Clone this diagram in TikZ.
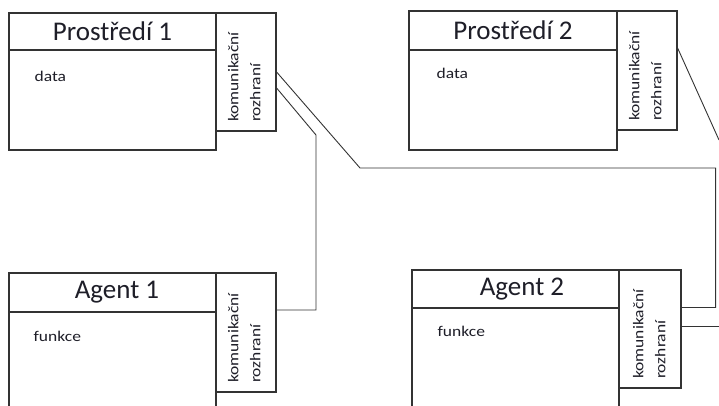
\documentclass[tikz,border=0pt]{standalone}
\usepackage{fontspec}
\usepackage{graphicx}
\setmainfont{Carlito}
\usetikzlibrary{calc}
\definecolor{boxline}{HTML}{333333}
\definecolor{ink}{HTML}{1E1E28}
\tikzset{
  frame/.style={draw=boxline, line width=1.2pt, rectangle, inner sep=0pt, fill=white},
  head/.style={frame, font=\fontsize{27}{32}\selectfont, text=ink},
  link/.style={draw=boxline, line width=0.9pt},
  bodytext/.style={inner sep=0pt, anchor=base west, text=ink, font=\fontsize{17.5}{21}\selectfont},
  iftext/.style={inner sep=0pt, rotate=90, anchor=south west, align=left, text=ink,
                 font=\fontsize{17.5}{22}\selectfont},
}
\newcommand{\squash}[1]{\scalebox{1}[0.85]{#1}}
\begin{document}
\begin{tikzpicture}[x=1pt, y=-1pt]
  \useasboundingbox (0,0) rectangle (719,406);
  \clip (0,0) rectangle (719,406);

  % Prostředí 1
  \node[frame, minimum width=207pt, minimum height=100pt] (p1b) at (112.5,100) {};
  \node[head, minimum width=207pt, minimum height=37pt] (p1h) at (112.5,31.5) {Prostředí 1};
  \node[frame, minimum width=60pt, minimum height=118pt] (p1i) at (246,72) {};
  \node[bodytext] (p1d) at ([xshift=26pt,yshift=-31.7pt]p1b.north west) {\squash{data}};
  \node[iftext] (p1t) at ([xshift=-16pt,yshift=9.5pt]p1i.south east) {\squash{komunikační}\\\squash{rozhraní}};

  % Prostředí 2
  \node[frame, minimum width=208pt, minimum height=100pt] (p2b) at (513,100) {};
  \node[head, minimum width=208pt, minimum height=39pt] (p2h) at (513,30.5) {Prostředí 2};
  \node[frame, minimum width=60pt, minimum height=119pt] (p2i) at (647,70.5) {};
  \node[bodytext] (p2d) at ([xshift=28pt,yshift=-29pt]p2b.north west) {\squash{data}};
  \node[iftext] (p2t) at ([xshift=-16pt,yshift=9.5pt]p2i.south east) {\squash{komunikační}\\\squash{rozhraní}};

  % Agent 1
  \node[frame, minimum width=207pt, minimum height=120pt] (a1b) at (112.5,372) {};
  \node[head, minimum width=207pt, minimum height=39pt] (a1h) at (112.5,292.5) {\hspace*{9pt}Agent 1};
  \node[frame, minimum width=60pt, minimum height=119pt] (a1i) at (246,332.5) {};
  \node[bodytext] (a1d) at ([xshift=25pt,yshift=-29.7pt]a1b.north west) {\squash{funkce}};
  \node[iftext] (a1t) at ([xshift=-16pt,yshift=9.5pt]a1i.south east) {\squash{komunikační}\\\squash{rozhraní}};

  % Agent 2
  \node[frame, minimum width=207pt, minimum height=120pt] (a2b) at (515.5,368) {};
  \node[head, minimum width=207pt, minimum height=38pt] (a2h) at (515.5,289) {\hspace*{13pt}Agent 2};
  \node[frame, minimum width=62pt, minimum height=118pt] (a2i) at (650,329) {};
  \node[bodytext] (a2d) at ([xshift=26pt,yshift=-29pt]a2b.north west) {\squash{funkce}};
  \node[iftext] (a2t) at ([xshift=-16pt,yshift=9.5pt]a2i.south east) {\squash{komunikační}\\\squash{rozhraní}};

  % free ends at the right border
  \coordinate (p2out) at (719,140);
  \coordinate (a2out) at (719,326);

  % connectors
  \draw[link] (p1i.east) -- (360,168) -| ([xshift=34pt,yshift=21.5pt]a2i.east) -- ([yshift=21.5pt]a2i.east);
  \draw[link] ([yshift=-16pt]p1i.east) -- (316,135) |- ([yshift=22.5pt]a1i.east);
  \draw[link] ([yshift=22.5pt]p2i.east) -- (p2out);
  \draw[link] ([yshift=3pt]a2i.east) -- (a2out);
\end{tikzpicture}
\end{document}
